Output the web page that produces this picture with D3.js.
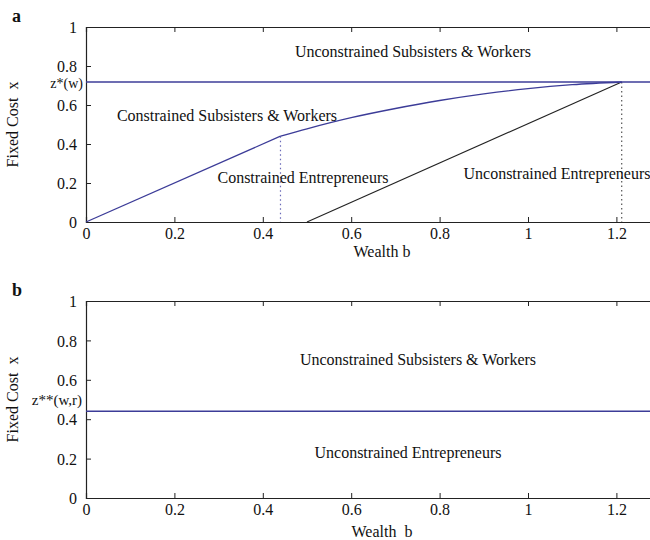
<!DOCTYPE html>
<html>
<head>
<meta charset="utf-8">
<script src="https://cdn.jsdelivr.net/npm/d3@7"></script>
<style>
  html, body { margin: 0; padding: 0; background: #fff; }
  svg { display: block; font-family: "Liberation Serif", "DejaVu Serif", serif; }
  text { white-space: pre; }
</style>
</head>
<body>
<svg id="chart" width="650" height="540"></svg>
<script>
// Occupational thresholds in (wealth b, fixed cost x) space
const xTicks = [0, 0.2, 0.4, 0.6, 0.8, 1, 1.2];
const yTicks = [0, 0.2, 0.4, 0.6, 0.8, 1];
const xTickLabels = ["0", "0.2", "0.4", "0.6", "0.8", "1", "1.2"];
const yTickLabels = ["0", "0.2", "0.4", "0.6", "0.8", "1"];

// Panel a: credit-constrained economy
const zStarW = 0.718;              // z*(w)
const bKink = 0.44;                // wealth where the constraint starts to bend
const bStar = 1.212;               // wealth where all thresholds meet
// Constrained subsisters/workers vs entrepreneurs boundary: straight part, then concave part
const straightB = [0, 0.44];
const straightX = [0, 0.44];
const concaveB = [0.44, 0.5, 0.6, 0.7, 0.8, 0.9, 1.0, 1.1, 1.212];
const concaveX = [0.44, 0.478, 0.535, 0.582, 0.623, 0.657, 0.684, 0.704, 0.718];
// Constrained vs unconstrained entrepreneurs boundary
const entrepB = [0.5, 1.212];
const entrepX = [0, 0.718];

// Panel b: perfect credit markets
const zStarStar = 0.44;            // z**(w,r)

const svg = d3.select("#chart");
const blue = "#3c3c98";
const axisCol = "#222";
const textCol = "#111";

function panel(cfg) {
  const x = d3.scaleLinear().domain([0, 1.3]).range([86, 86 + 1.3 * 442]);
  const y = d3.scaleLinear().domain([0, 1]).range([cfg.y0, cfg.y1]);
  const g = svg.append("g");

  // bottom and top axes, ticks pointing inward
  const bottom = g.append("g").attr("transform", `translate(0,${cfg.y0})`)
    .call(d3.axisBottom(x).tickValues(xTicks).tickSize(-5).tickPadding(5)
      .tickFormat((d, i) => xTickLabels[i]));
  const top = g.append("g").attr("transform", `translate(0,${cfg.y1})`)
    .call(d3.axisTop(x).tickValues(xTicks).tickSize(-5).tickFormat(""));
  const left = g.append("g").attr("transform", `translate(86,0)`)
    .call(d3.axisLeft(y).tickValues(yTicks).tickSize(-5).tickPadding(9)
      .tickFormat((d, i) => yTickLabels[i]));
  [bottom, top, left].forEach(a => {
    a.select(".domain").attr("stroke", axisCol).attr("stroke-width", 1.2);
    a.selectAll(".tick line").attr("stroke", axisCol);
    a.selectAll("text").attr("font-size", 16).attr("fill", textCol)
      .attr("font-family", "Liberation Serif");
  });
  bottom.selectAll("text").attr("dy", "0.75em");
  left.selectAll("text").attr("dy", "0.36em");

  // axis titles and panel letter
  g.append("text").attr("x", 382).attr("y", cfg.y0 + cfg.titleGap).attr("text-anchor", "middle")
    .attr("font-size", 16).attr("fill", textCol).text(cfg.xTitle);
  g.append("text").attr("transform", `translate(18,${(cfg.y0 + cfg.y1) / 2}) rotate(-90)`)
    .attr("text-anchor", "middle").attr("font-size", 16).attr("fill", textCol)
    .text("Fixed Cost  x");
  g.append("text").attr("x", 12).attr("y", cfg.y1 - 5).attr("font-size", 18)
    .attr("font-weight", "bold").attr("fill", textCol).text(cfg.letter);

  return { g, x, y };
}

function addLabels(g, labels) {
  labels.forEach(([t, cx, by]) => g.append("text").attr("x", cx).attr("y", by)
    .attr("text-anchor", "middle").attr("font-size", 16).attr("fill", textCol).text(t));
}

// ---- Panel a ----
{
  const { g, x, y } = panel({ y0: 222, y1: 27, letter: "a", xTitle: "Wealth b", titleGap: 35 });
  const line = d3.line().x(d => x(d[0])).y(d => y(d[1]));

  // dotted guides
  g.append("line").attr("x1", x(bKink)).attr("x2", x(bKink))
    .attr("y1", y(straightX[1])).attr("y2", y(0))
    .attr("stroke", "#6a6ab8").attr("stroke-dasharray", "1.5,3").attr("stroke-width", 1.2);
  g.append("line").attr("x1", x(bStar)).attr("x2", x(bStar))
    .attr("y1", y(zStarW)).attr("y2", y(0))
    .attr("stroke", "#555").attr("stroke-dasharray", "1.5,3").attr("stroke-width", 1.2);

  g.append("path").datum(entrepB.map((b, i) => [b, entrepX[i]]))
    .attr("d", line).attr("fill", "none").attr("stroke", "#222").attr("stroke-width", 1.1);
  g.append("path").datum(straightB.map((b, i) => [b, straightX[i]]))
    .attr("d", line).attr("fill", "none").attr("stroke", blue).attr("stroke-width", 1.3);
  g.append("path").datum(concaveB.map((b, i) => [b, concaveX[i]]))
    .attr("d", d3.line().x(d => x(d[0])).y(d => y(d[1])).curve(d3.curveMonotoneX))
    .attr("fill", "none").attr("stroke", blue).attr("stroke-width", 1.3);
  g.append("line").attr("x1", x(0)).attr("x2", 660).attr("y1", y(zStarW)).attr("y2", y(zStarW))
    .attr("stroke", blue).attr("stroke-width", 1.6);

  g.append("text").attr("x", 83).attr("y", y(zStarW) + 6)
    .attr("text-anchor", "end").attr("font-size", 14).attr("fill", textCol).text("z*(w)");

  addLabels(g, [
    ["Unconstrained Subsisters & Workers", 413, 57],
    ["Constrained Subsisters & Workers", 227, 121],
    ["Constrained Entrepreneurs", 303, 183],
    ["Unconstrained Entrepreneurs", 557, 179]
  ]);
}

// ---- Panel b ----
{
  const { g, x, y } = panel({ y0: 498, y1: 301, letter: "b", xTitle: "Wealth  b", titleGap: 39 });
  g.append("line").attr("x1", x(0)).attr("x2", 660).attr("y1", y(zStarStar)).attr("y2", y(zStarStar))
    .attr("stroke", blue).attr("stroke-width", 1.6);
  g.append("text").attr("x", 82).attr("y", y(zStarStar) - 6)
    .attr("text-anchor", "end").attr("font-size", 15).attr("fill", textCol).text("z**(w,r)");

  addLabels(g, [
    ["Unconstrained Subsisters & Workers", 418, 365],
    ["Unconstrained Entrepreneurs", 408, 458]
  ]);
}
</script>
</body>
</html>
